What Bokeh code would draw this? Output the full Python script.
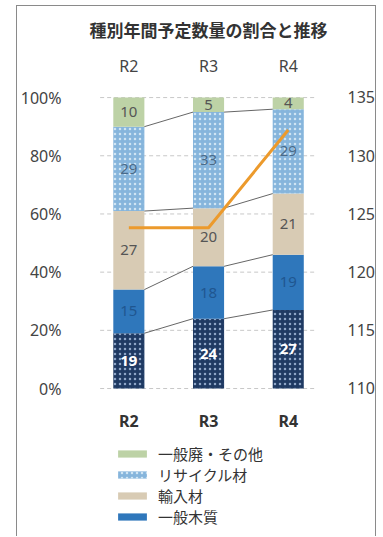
from bokeh.plotting import figure
from bokeh.models import (Range1d, LinearAxis, FixedTicker, Legend, LegendItem,
                          ColumnDataSource)
from bokeh.core.properties import value
from bokeh.embed import file_html
from bokeh.resources import INLINE

# ---- data ----
title = "種別年間予定数量の割合と推移"
years = ["R2", "R3", "R4"]
bottom_share = [19, 24, 27]          # bottom series (legend entry cut off in source)
ippan_mokushitsu = [15, 18, 19]      # 一般木質
yunyu = [27, 20, 21]                 # 輸入材
recycle = [29, 33, 29]               # リサイクル材
ippanhai = [10, 5, 4]                # 一般廃・その他
total_amount = [123.8, 123.8, 132.2]
pct_ticks = [0, 20, 40, 60, 80, 100]
amount_ticks = [110, 115, 120, 125, 130, 135]

series = [
    ("", bottom_share, "#1f3a63", ".", "#8fa6c8", "white", "bold"),
    ("一般木質", ippan_mokushitsu, "#2f77bb", None, None, "#1f5690", "normal"),
    ("輸入材", yunyu, "#d8cbb4", None, None, "#555555", "normal"),
    ("リサイクル材", recycle, "#86b5dc", ".", "#cfe4f3", "#4a6a88", "normal"),
    ("一般廃・その他", ippanhai, "#bdd2a6", None, None, "#555555", "normal"),
]

xs = list(range(1, len(years) + 1))
W = 0.39
FONT = "Noto Sans"
JFONT = "Noto Sans CJK JP"
BORDER = "1px solid #8a8a8a"

p = figure(width=360, height=531, output_backend="svg", toolbar_location=None,
           x_range=Range1d(0.406, 3.618), y_range=Range1d(-51.2, 131.3),
           x_axis_location=None,
           min_border_left=58, min_border_right=37, min_border_top=0,
           min_border_bottom=0, background_fill_color="white",
           border_fill_color="white", outline_line_color=None)
p.margin = (5, 0, 0, 16)
p.styles = {"border-top": BORDER, "border-left": BORDER, "border-right": BORDER}

p.extra_y_ranges = {"amt": Range1d(97.2, 142.8)}

# grid (dashed, limited to the bar area)
p.xgrid.grid_line_color = None
p.ygrid.grid_line_color = None
gx0 = xs[0] - 0.36
gx1 = xs[-1] + 0.36
p.segment(x0=[gx0] * len(pct_ticks), y0=pct_ticks, x1=[gx1] * len(pct_ticks),
          y1=pct_ticks, line_color="#c8c8c8", line_dash="4 3", line_width=1)

# stacked bars
cum = [0] * len(years)
levels = []
items = {}
for name, vals, col, hp, hc, tcol, tstyle in series:
    bottoms = list(cum)
    tops = [b + v for b, v in zip(bottoms, vals)]
    src = ColumnDataSource(dict(x=xs, b=bottoms, t=tops,
                                m=[(b + t) / 2 for b, t in zip(bottoms, tops)],
                                lab=[str(v) for v in vals]))
    kw = dict(x="x", bottom="b", top="t", width=W, source=src,
              fill_color=col, line_color=None)
    if hp:
        kw.update(hatch_pattern=hp, hatch_color=hc, hatch_scale=5, hatch_weight=1.2)
    r = p.vbar(**kw)
    if name:
        items[name] = r
    p.text(x="x", y="m", text="lab", source=src, text_align="center",
           text_baseline="middle", text_font=value(FONT), text_font_size="15px",
           text_color=tcol, text_font_style=tstyle)
    cum = tops
    levels.append(tops)

# connector lines between bars
for lv in levels[:-1]:
    x0 = [x + W / 2 for x in xs[:-1]]
    x1 = [x - W / 2 for x in xs[1:]]
    p.segment(x0=x0, y0=lv[:-1], x1=x1, y1=lv[1:], line_color="#555555",
              line_width=0.9)

# line on secondary axis
p.line(x=xs, y=total_amount, y_range_name="amt", line_color="#ec9a2c",
       line_width=3)

# title, top and bottom category labels
p.text(x=[sum(xs) / len(xs)], y=[123.4], text=[title], text_align="center",
       text_baseline="middle", text_font=value(JFONT), text_font_size="17px",
       text_font_style="bold", text_color="#333333")
p.text(x=xs, y=[110.7] * len(xs), text=years, text_align="center",
       text_baseline="middle", text_font=value(FONT), text_font_size="16px",
       text_color="#444444")
p.text(x=xs, y=[-11.3] * len(xs), text=years, text_align="center",
       text_baseline="middle", text_font=value(FONT), text_font_size="16px",
       text_font_style="bold", text_color="#333333")

# axes
p.yaxis.ticker = FixedTicker(ticks=pct_ticks)
p.yaxis.major_label_overrides = {t: f"{t}%" for t in pct_ticks}
p.yaxis.major_label_text_font = FONT
p.yaxis.major_label_text_font_size = "16px"
p.yaxis.major_label_text_color = "#444444"
p.yaxis.major_label_standoff = 14
p.yaxis.axis_line_color = None
p.yaxis.major_tick_line_color = None
p.yaxis.minor_tick_line_color = None

right_ax = LinearAxis(y_range_name="amt", ticker=FixedTicker(ticks=amount_ticks),
                      major_label_text_font=FONT, major_label_text_font_size="16px",
                      major_label_text_color="#444444", major_label_standoff=4,
                      axis_line_color=None, major_tick_line_color=None,
                      minor_tick_line_color=None)
p.add_layout(right_ax, "right")

# legend
order = ["一般廃・その他", "リサイクル材", "輸入材", "一般木質"]
legend = Legend(items=[LegendItem(label=n, renderers=[items[n]]) for n in order],
                location=(33, 10), orientation="vertical",
                glyph_width=36, glyph_height=9, label_height=18, spacing=0,
                label_standoff=8, padding=0, margin=0,
                label_text_font=JFONT, label_text_font_size="15px",
                label_text_color="#333333", border_line_color=None,
                background_fill_alpha=0)
p.add_layout(legend, "center")

open("out.html", "w").write(file_html(p, INLINE))
